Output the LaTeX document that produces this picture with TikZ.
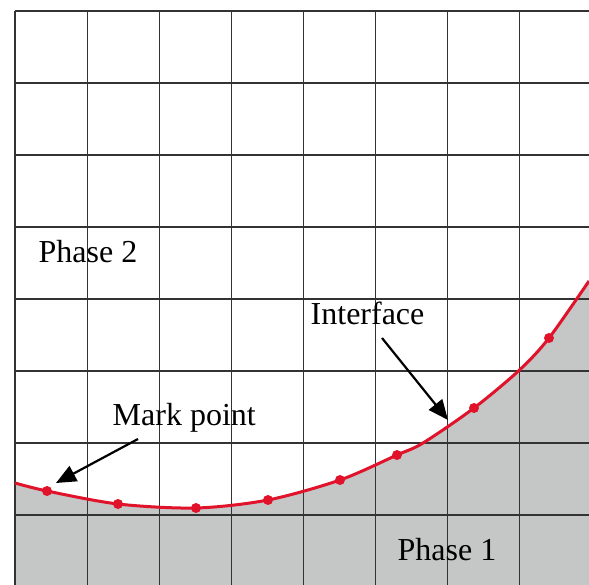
\documentclass[tikz,border=0pt]{standalone}
\usepackage{fontspec}
\setmainfont{Liberation Serif}
\usetikzlibrary{arrows.meta}
\definecolor{phaseone}{HTML}{C5C6C6}
\definecolor{ifred}{HTML}{E0132B}
\tikzset{
  gridline/.style={line width=1.5pt, black!80},
  label/.style={inner sep=0pt, anchor=base west, font=\fontsize{32}{38}\selectfont},
  markdot/.style={circle, fill=ifred, inner sep=0pt, minimum size=10pt},
  pointer/.style={line width=2.2pt, -{Triangle[length=20pt,width=17pt]}},
  iface/.style={ifred, line width=3pt}
}
\begin{document}
\begin{tikzpicture}[x=1pt,y=-1pt]
\useasboundingbox (0,0) rectangle (589,585);
% phase 1 region
\fill[phaseone] plot[smooth] coordinates {(15,483) (47,491) (118,504) (196,508) (268,500) (340,480) (397,455) (423,443) (474,408) (519.5,370) (549,338) (589,281)} -- (589,585) -- (15,585) -- cycle;
% grid
\foreach \x in {15,87.5,159.5,231.5,303.5,375.5,447.5,519.5}
  \draw[gridline] (\x,11) -- (\x,585);
\foreach \y in {11,83,155,227,299,371,443,515}
  \draw[gridline] (15,\y) -- (589,\y);
% interface
\draw[iface] plot[smooth] coordinates {(15,483) (47,491) (118,504) (196,508) (268,500) (340,480) (397,455) (423,443) (474,408) (519.5,370) (549,338) (589,281)};
\foreach \p/\n in {{(47,491)}/m1,{(118,504)}/m2,{(196,508)}/m3,{(268,500)}/m4,{(340,480)}/m5,{(397,455)}/m6,{(474,408)}/m7,{(549,338)}/m8}
  \node[markdot] (\n) at \p {};
% labels
\node[label] (ph2) at (38.5,262.7) {Phase 2};
\node[label] (ifl) at (310.5,324.3) {Interface};
\node[label] (mpl) at (112.5,425.7) {Mark point};
\node[label] (ph1) at (397.5,560) {Phase 1};
% arrows
\coordinate (mptail) at (138,439);
\coordinate (mptip) at (56,483);
\coordinate (iftail) at (382,338);
\coordinate (iftip) at (448,420);
\draw[pointer] (mptail) -- (mptip);
\draw[pointer] (iftail) -- (iftip);
\end{tikzpicture}
\end{document}
